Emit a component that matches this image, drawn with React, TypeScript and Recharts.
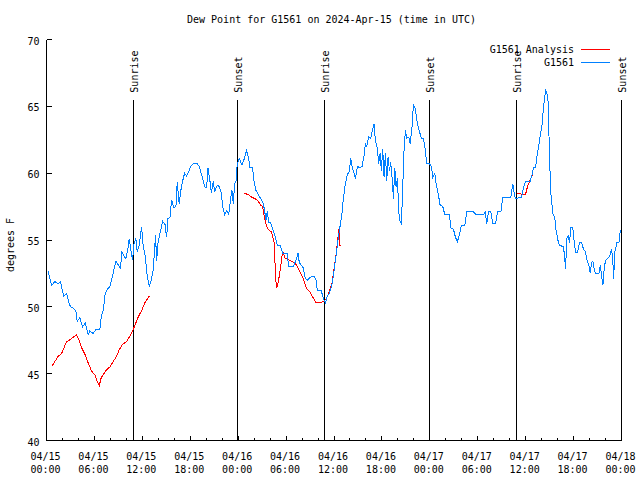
import React from 'react';
import { LineChart, Line, XAxis, YAxis, ReferenceLine, Legend } from 'recharts';

const FONT = '"DejaVu Sans Mono", "Liberation Mono", monospace';

// hours since 2024-04-15 00:00 UTC, dew point in deg F
const g1561Obs: [number, number][] = [
  [0.17, 52.7], [0.42, 52.1], [0.67, 51.6], [1.04, 51.9], [1.46, 51.7], [1.75, 51.9], [1.92, 51.4],
  [2.17, 50.8], [2.51, 51.0], [2.76, 50.4], [3.01, 50.0], [3.34, 49.9], [3.68, 49.7], [3.84, 48.9],
  [4.18, 49.2], [4.51, 48.5], [4.85, 48.8], [5.22, 47.9], [5.43, 48.2], [5.85, 48.0], [6.18, 48.3],
  [6.68, 48.3], [6.89, 49.4], [7.1, 49.7], [7.35, 51.0], [7.6, 51.3], [7.94, 51.5], [8.19, 52.1],
  [8.44, 52.8], [8.69, 53.4], [9.02, 53.1], [9.27, 52.9], [9.44, 54.1], [9.69, 53.8], [9.94, 53.6],
  [10.19, 54.3], [10.36, 55.1], [10.61, 54.1], [10.78, 53.5], [10.94, 54.7], [11.19, 55.1], [11.36, 54.1],
  [11.61, 54.6], [11.9, 56.0], [12.11, 54.5], [12.36, 53.8], [12.61, 52.3], [12.87, 51.5], [13.16, 52.1],
  [13.37, 52.8], [13.53, 54.3], [13.66, 55.4], [13.78, 53.4], [13.95, 54.7], [14.2, 55.5], [14.37, 55.9],
  [14.54, 56.4], [14.83, 56.2], [15.04, 55.2], [15.2, 56.6], [15.46, 56.7], [15.66, 58.0], [15.96, 57.4],
  [16.21, 57.5], [16.37, 59.3], [16.62, 57.7], [16.79, 58.6], [17.04, 59.4], [17.29, 60.0], [17.54, 59.8],
  [17.79, 60.1], [18.05, 60.5], [18.38, 60.7], [18.88, 60.7], [19.13, 60.5], [19.55, 59.6], [19.8, 59.0],
  [20.05, 58.9], [20.22, 60.4], [20.47, 59.4], [20.64, 58.5], [20.89, 59.4], [21.05, 58.6], [21.39, 59.1],
  [21.64, 59.0], [21.89, 58.5], [22.06, 57.5], [22.31, 56.9], [22.56, 57.2], [22.81, 56.9], [23.06, 58.1],
  [23.22, 58.7], [23.39, 57.7], [23.56, 59.2], [23.73, 59.4], [23.89, 60.7], [24.14, 61.1], [24.47, 60.6],
  [24.72, 61.0], [25.06, 61.7], [25.31, 61.1], [25.48, 60.4], [25.81, 60.4], [25.98, 59.4], [26.23, 58.7],
  [26.52, 58.4], [26.81, 58.1], [27.15, 57.7], [27.31, 57.2], [27.48, 56.5], [27.65, 57.2], [27.82, 56.3],
  [28.07, 56.3], [28.4, 55.7], [28.65, 55.2], [28.9, 54.6], [29.24, 54.6], [29.57, 54.0], [29.82, 54.0],
  [30.15, 54.0], [30.32, 53.0], [30.91, 53.0], [31.24, 53.5], [31.49, 54.0], [31.66, 53.3], [31.91, 53.1],
  [32.16, 52.9], [32.41, 52.1], [32.66, 52.0], [33.0, 52.2], [33.5, 52.3], [33.75, 52.0], [33.91, 51.2],
  [34.41, 51.2], [34.67, 50.6], [34.92, 50.3], [35.17, 50.8], [35.42, 51.0], [35.71, 51.6], [35.92, 52.3],
  [36.09, 53.1], [36.25, 53.8], [36.5, 55.0], [36.75, 56.0], [37.0, 57.0], [37.17, 58.1], [37.42, 59.2],
  [37.67, 59.9], [37.92, 60.1], [38.09, 61.1], [38.26, 60.5], [38.51, 60.0], [38.68, 59.6], [38.93, 60.5],
  [39.26, 60.4], [39.51, 60.5], [39.76, 61.3], [39.93, 62.2], [40.1, 62.0], [40.35, 62.7], [40.6, 62.6],
  [40.85, 63.3], [41.01, 63.7], [41.18, 62.5], [41.43, 61.8], [41.6, 60.7], [41.77, 61.5], [41.93, 60.2],
  [42.1, 61.8], [42.27, 59.7], [42.44, 61.5], [42.6, 59.4], [42.77, 61.2], [42.94, 60.2], [43.1, 60.8],
  [43.27, 59.7], [43.44, 58.1], [43.61, 60.4], [43.77, 59.0], [43.94, 59.6], [44.11, 57.1], [44.27, 56.4],
  [44.44, 56.2], [44.61, 59.0], [44.77, 61.7], [44.94, 63.2], [45.11, 62.6], [45.36, 62.7], [45.53, 62.2],
  [45.78, 63.5], [45.94, 65.1], [46.19, 64.8], [46.36, 64.0], [46.61, 63.3], [46.95, 62.6], [47.2, 62.6],
  [47.41, 61.8], [47.62, 60.7], [47.95, 60.7], [48.2, 60.5], [48.37, 59.7], [48.62, 60.0], [48.79, 59.2],
  [49.04, 58.5], [49.29, 57.6], [49.62, 57.5], [49.87, 56.9], [50.46, 56.9], [50.62, 55.9], [50.96, 55.8],
  [51.21, 55.2], [51.46, 54.9], [51.71, 55.4], [51.96, 56.1], [52.38, 56.1], [52.63, 57.1], [53.46, 57.1],
  [53.8, 56.9], [54.72, 56.9], [54.93, 57.1], [55.13, 56.2], [55.34, 57.1], [55.64, 57.1], [55.89, 56.2],
  [56.22, 56.2], [56.47, 57.1], [56.89, 57.1], [57.14, 58.2], [58.14, 58.2], [58.39, 59.2], [58.56, 58.5],
  [58.73, 58.1], [59.48, 58.2], [59.73, 58.9], [59.98, 59.4], [60.56, 59.4], [60.82, 59.9], [60.98, 60.4],
  [61.23, 60.4], [61.4, 61.2], [61.65, 62.1], [61.82, 62.8], [62.07, 63.7], [62.24, 65.0], [62.49, 66.2],
  [62.65, 66.0], [62.82, 65.3], [62.99, 61.1], [63.15, 58.5], [63.4, 57.0], [63.66, 56.6], [63.74, 55.9],
  [63.91, 55.4], [64.07, 54.9], [64.24, 54.6], [64.74, 54.5], [64.91, 53.5], [64.99, 52.8], [65.16, 55.1],
  [65.33, 55.3], [65.49, 54.8], [65.66, 55.9], [65.91, 55.9], [66.08, 54.8], [66.25, 54.1], [66.5, 54.1],
  [66.75, 54.8], [67.0, 54.8], [67.25, 54.3], [67.5, 54.1], [67.67, 53.5], [67.92, 53.1], [68.08, 52.5],
  [68.25, 53.3], [68.42, 53.4], [68.58, 52.8], [68.75, 52.5], [69.17, 52.5], [69.34, 53.1], [69.5, 52.4],
  [69.67, 51.6], [69.84, 52.9], [70.01, 53.5], [70.26, 53.6], [70.51, 53.8], [70.76, 54.3], [70.92, 53.4],
  [71.01, 52.1], [71.17, 54.1], [71.42, 54.8], [71.68, 54.8], [71.84, 55.7], [71.97, 55.7],
];

// analysis runs; null marks a gap between runs
const g1561Analysis: [number, number | null][] = [
  [0.67, 45.55], [1.04, 45.9], [1.46, 46.3], [1.88, 46.5], [2.17, 46.9], [2.51, 47.4], [2.84, 47.5],
  [3.26, 47.7], [3.76, 47.9], [4.09, 47.5], [4.43, 46.9], [4.85, 46.4], [5.22, 45.8], [5.64, 45.2],
  [6.06, 44.9], [6.35, 44.4], [6.6, 44.1], [6.85, 44.7], [7.18, 45.0], [7.52, 45.3], [7.94, 45.5],
  [8.35, 45.9], [8.77, 46.3], [9.11, 46.8], [9.52, 47.2], [10.03, 47.4], [10.44, 47.8], [10.86, 48.3],
  [11.19, 48.8], [11.53, 49.3], [11.9, 49.7], [12.32, 50.3], [12.87, 50.8],
  [18, null],
  [24.72, 58.5], [25.27, 58.4], [25.69, 58.2], [26.1, 58.1], [26.52, 57.9], [26.81, 57.6], [27.06, 57.5],
  [27.23, 56.9], [27.4, 56.4], [27.65, 55.9], [27.9, 55.7], [28.15, 55.6], [28.4, 55.1], [28.57, 54.6],
  [28.65, 52.3], [28.82, 51.4], [28.99, 51.8], [29.15, 52.3], [29.32, 53.0], [29.49, 53.8], [29.65, 54.0],
  [29.9, 53.6], [30.15, 53.6], [30.41, 53.5], [30.74, 53.4], [31.07, 53.3], [31.32, 53.1], [31.57, 52.8],
  [31.83, 52.5], [32.16, 52.1], [32.41, 51.6], [32.66, 51.3], [33.0, 51.1], [33.25, 50.8], [33.5, 50.6],
  [33.75, 50.3], [34.33, 50.3], [34.67, 50.4], [35.0, 50.6], [35.25, 50.9], [35.5, 51.3], [35.75, 51.8],
  [36.0, 52.8], [36.25, 53.9], [36.42, 54.8], [36.59, 55.7], [36.67, 55.9], [36.75, 54.6], [36.88, 54.6],
  [48, null],
  [58.89, 58.5], [59.14, 58.5], [59.56, 58.4], [59.98, 58.4], [60.23, 59.0], [60.56, 59.5], [60.82, 59.8],
  [60.98, 59.9],
];

const eventHours = [10.89, 23.92, 34.81, 47.96, 58.85, 71.97];
const eventNames = ['Sunrise', 'Sunset', 'Sunrise', 'Sunset', 'Sunrise', 'Sunset'];

const xTicks = [0, 2, 4, 6, 8, 10, 12, 14, 16, 18, 20, 22, 24, 26, 28, 30, 32, 34, 36, 38, 40, 42, 44, 46, 48,
  50, 52, 54, 56, 58, 60, 62, 64, 66, 68, 70, 72];
const xMajorTicks = [0, 6, 12, 18, 24, 30, 36, 42, 48, 54, 60, 66, 72];
const xDateLabels = ['04/15', '04/15', '04/15', '04/15', '04/16', '04/16', '04/16', '04/16', '04/17', '04/17',
  '04/17', '04/17', '04/18'];
const xTimeLabels = ['00:00', '06:00', '12:00', '18:00', '00:00', '06:00', '12:00', '18:00', '00:00', '06:00',
  '12:00', '18:00', '00:00'];
const yTicks = [40, 45, 50, 55, 60, 65, 70];

const seriesNames = ['G1561 Analysis', 'G1561'];
const seriesColors = ['#ff0000', '#0080ff'];

const obsData = g1561Obs.map(([h, v]) => ({ h, v }));
const anaData = g1561Analysis.map(([h, v]) => ({ h, v }));

function BottomTick(props: any) {
  const { x, y, payload } = props;
  const i = xMajorTicks.indexOf(payload.value);
  const major = i >= 0;
  return (
    <g>
      <line x1={x} y1={y} x2={x} y2={y - (major ? 5 : 3)} stroke="#000" shapeRendering="crispEdges" />
      {major && (
        <text textAnchor="middle" fontFamily={FONT} fontSize={10} fill="#000">
          <tspan x={x - 1} y={y + 19}>{xDateLabels[i]}</tspan>
          <tspan x={x - 1} y={y + 32}>{xTimeLabels[i]}</tspan>
        </text>
      )}
    </g>
  );
}

function TopTick(props: any) {
  const { x, y, payload } = props;
  const major = xMajorTicks.includes(payload.value);
  return <line x1={x} y1={y} x2={x} y2={y + (major ? 5 : 3)} stroke="#000" shapeRendering="crispEdges" />;
}

function LeftTick(props: any) {
  const { x, y, payload } = props;
  return (
    <g>
      <line x1={x} y1={y} x2={x + 5} y2={y} stroke="#000" shapeRendering="crispEdges" />
      <text x={x - 7} y={y + 5} textAnchor="end" fontFamily={FONT} fontSize={10} fill="#000">
        {payload.value}
      </text>
    </g>
  );
}

function RightTick(props: any) {
  const { x, y } = props;
  return <line x1={x} y1={y} x2={x - 5} y2={y} stroke="#000" shapeRendering="crispEdges" />;
}

function EventLabel(props: any) {
  const { viewBox, text } = props;
  if (!viewBox) return null;
  const px = viewBox.x + 4.7;
  const py = viewBox.y - 7;
  return (
    <text x={px} y={py} transform={`rotate(-90 ${px} ${py})`} textAnchor="start" fontFamily={FONT}
      fontSize={10} fill="#000">
      {text}
    </text>
  );
}

function LegendBox() {
  return (
    <svg width={150} height={30} style={{ display: 'block' }}>
      {seriesNames.map((name, i) => (
        <g key={name}>
          <text x={104} y={11 + i * 13} textAnchor="end" fontFamily={FONT} fontSize={10} fill="#000">
            {name}
          </text>
          <line x1={111} x2={140} y1={7.5 + i * 13} y2={7.5 + i * 13} stroke={seriesColors[i]}
            shapeRendering="crispEdges" />
        </g>
      ))}
    </svg>
  );
}

export default function App() {
  return (
    <div style={{ position: 'absolute', left: 0, top: 0, width: 640, height: 480, background: '#fff' }}>
      <LineChart width={640} height={480} margin={{ top: 39.5, right: 18.5, bottom: 0, left: 0 }}>
        <text x={331.5} y={23} textAnchor="middle" fontFamily={FONT} fontSize={10} fill="#000">
          Dew Point for G1561 on 2024-Apr-15 (time in UTC)
        </text>
        <text x={10} y={245} transform="rotate(-90 10 245)" textAnchor="middle" dominantBaseline="central"
          fontFamily={FONT} fontSize={10} fill="#000">
          degrees F
        </text>
        <XAxis xAxisId="b" type="number" dataKey="h" domain={[0, 72]} ticks={xTicks} interval={0}
          allowDataOverflow height={39.5} tickSize={0} tickMargin={0} tickLine={false}
          axisLine={{ stroke: '#000', shapeRendering: 'crispEdges' }} tick={<BottomTick />} />
        <XAxis xAxisId="t" orientation="top" type="number" dataKey="h" domain={[0, 72]} ticks={xTicks}
          interval={0} allowDataOverflow height={0} tickSize={0} tickMargin={0} tickLine={false}
          axisLine={{ stroke: '#000', shapeRendering: 'crispEdges' }} tick={<TopTick />} />
        <YAxis yAxisId="l" type="number" domain={[40, 70]} ticks={yTicks} interval={0} allowDataOverflow
          width={46.5} tickSize={0} tickMargin={0} tickLine={false}
          axisLine={{ stroke: '#000', shapeRendering: 'crispEdges' }} tick={<LeftTick />} />
        <YAxis yAxisId="r" orientation="right" type="number" domain={[40, 70]} ticks={yTicks} interval={0}
          allowDataOverflow width={0} tickSize={0} tickMargin={0} tickLine={false}
          axisLine={{ stroke: '#000', shapeRendering: 'crispEdges' }} tick={<RightTick />} />
        {eventHours.map((h, i) => (
          <ReferenceLine key={i} xAxisId="b" yAxisId="l" segment={[{ x: h, y: 40 }, { x: h, y: 65.5 }]}
            stroke="#000" strokeWidth={1} ifOverflow="visible" shapeRendering="crispEdges"
            label={<EventLabel text={eventNames[i]} />} />
        ))}
        <Line xAxisId="b" yAxisId="l" data={anaData} dataKey="v" name={seriesNames[0]} type="linear"
          stroke={seriesColors[0]} strokeWidth={1} dot={false} connectNulls={false} isAnimationActive={false}
          shapeRendering="crispEdges" />
        <Line xAxisId="b" yAxisId="l" data={obsData} dataKey="v" name={seriesNames[1]} type="linear"
          stroke={seriesColors[1]} strokeWidth={1} dot={false} isAnimationActive={false}
          shapeRendering="crispEdges" />
        <Legend layout="horizontal" verticalAlign="middle" align="center" content={<LegendBox />}
          wrapperStyle={{ left: 470, top: 42, width: 150, height: 30 }} />
      </LineChart>
    </div>
  );
}
